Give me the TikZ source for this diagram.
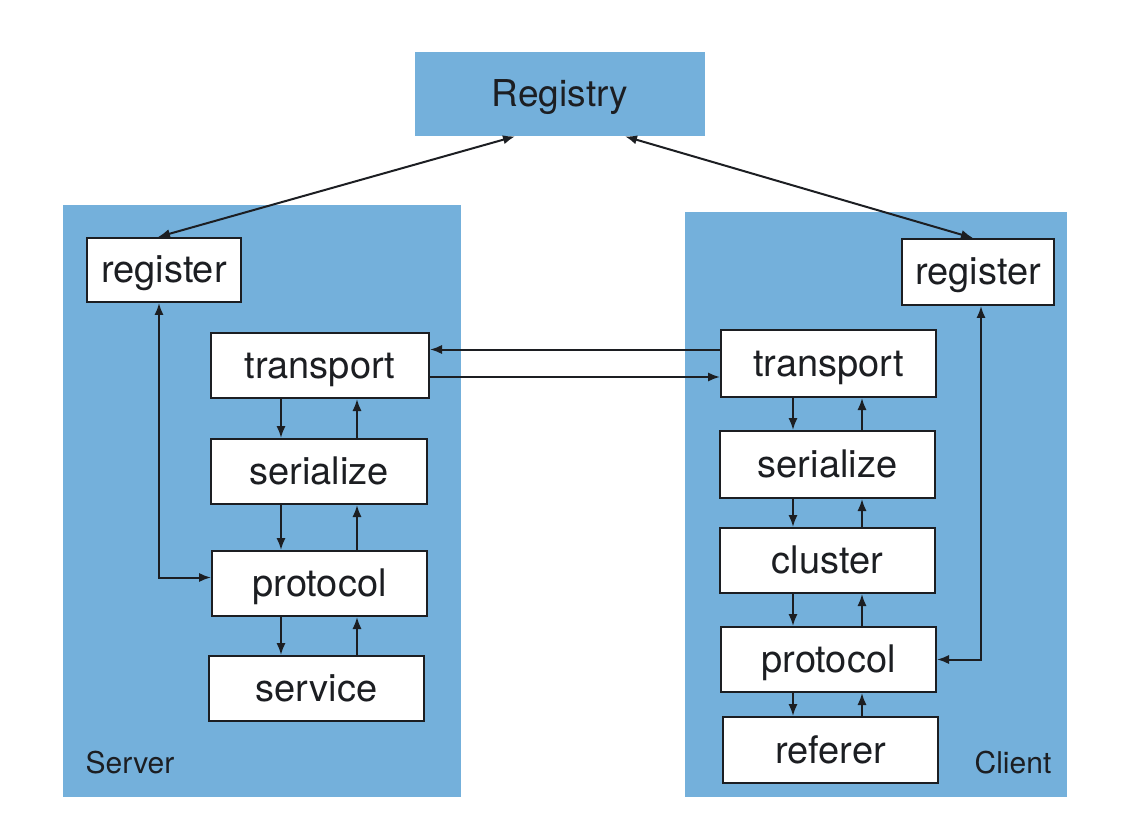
\documentclass[tikz,border=0pt]{standalone}
\usepackage{fontspec}
\setmainfont{TeX Gyre Heros}
\usepackage{xcolor}
\definecolor{Panel Blue}{HTML}{74B0DB}
\definecolor{Ink}{HTML}{1C1E22}
\colorlet{cBlue}{Panel Blue}
\colorlet{cInk}{Ink}
\usepackage{tikz}
\usetikzlibrary{calc, arrows.meta, positioning}
\tikzset{
	line width = .75pt,
	>={Latex[length=6pt, width=4.6pt]},
	panel/.style={
		fill=cBlue,
		draw=none,
		inner sep=0pt
	},
	block/.style={
		draw=cInk,
		fill=white,
		line width=1pt,
		text=cInk,
		inner sep=0pt,
		text height=13pt,
		text depth=0pt,
		minimum height=32.5pt,
		font=\fontsize{19}{22}\selectfont
	},
	label/.style={
		text=cInk,
		font=\fontsize{15}{18}\selectfont
	},
	edge/.style={
		->,
		draw=cInk,
		line width=1pt
	}
}
\begin{document}
\begin{tikzpicture}[x=.5pt, y=-.5pt]
		\useasboundingbox (0,0) rectangle (1146,834);

		\node[panel, minimum width=398*.5pt, minimum height=592*.5pt] (server) at (262,501) {};
		\node[panel, minimum width=382*.5pt, minimum height=585*.5pt] (client) at (876,504.5) {};
		\node[panel, minimum width=290*.5pt, minimum height=84*.5pt, text=cInk, text height=13pt, text depth=0pt, font=\fontsize{18.5}{22}\selectfont] (reg) at (560,94) {Registry};

		\node[block, minimum width=77pt, minimum height=32pt] (sreg) at (164,270) {register};
		\node[block, minimum width=109pt] (strans) at (320,365.5) {transport};
		\node[block, minimum width=108pt] (sser) at (319,471.5) {serialize};
		\node[block, minimum width=107.5pt] (sprot) at (319.5,583.5) {protocol};
		\node[block, minimum width=107.5pt] (sserv) at (316.5,688.5) {service};

		\node[block, minimum width=76pt, minimum height=33pt] (creg) at (978,272) {register};
		\node[block, minimum width=107.5pt, minimum height=33.5pt] (ctrans) at (828.5,363.5) {transport};
		\node[block, minimum width=107.5pt, minimum height=33.5pt] (cser) at (827.5,464.5) {serialize};
		\node[block, minimum width=107.5pt] (cclu) at (827.5,560.5) {cluster};
		\node[block, minimum width=107.5pt] (cprot) at (828.5,659.5) {protocol};
		\node[block, minimum width=107.5pt, minimum height=33pt] (cref) at (830.5,750) {referer};

		\node[label] (slabel) at (130,763) {Server};
		\node[label] (clabel) at (1013,763) {Client};

		\coordinate (sdn) at (281,0);
		\coordinate (sup) at (357,0);
		\coordinate (cdn) at (793,0);
		\coordinate (cup) at (862,0);

		\foreach \a/\b in {strans/sser, sser/sprot, sprot/sserv} {
			\draw[edge] (\a.south -| sdn) -- (\b.north -| sdn);
			\draw[edge] (\b.north -| sup) -- (\a.south -| sup);
		}
		\foreach \a/\b in {ctrans/cser, cser/cclu, cclu/cprot, cprot/cref} {
			\draw[edge] (\a.south -| cdn) -- (\b.north -| cdn);
			\draw[edge] (\b.north -| cup) -- (\a.south -| cup);
		}

		\draw[edge, <->] ([xshift=-3pt]sreg.north) -- ([xshift=-22.5pt]reg.south);
		\draw[edge, <->] ([xshift=-2.5pt]creg.north) -- ([xshift=32.5pt]reg.south);

		\draw[edge, <->] ([xshift=-2.5pt]sreg.south) |- ([yshift=3pt]sprot.west);
		\draw[edge, <->] ([xshift=1.5pt]creg.south) |- (cprot.east);

		\draw[edge] ([yshift=7pt]ctrans.west) -- ([yshift=7pt]ctrans.west -| strans.east);
		\draw[edge] ([yshift=-5.75pt]strans.east) -- ([yshift=-5.75pt]strans.east -| ctrans.west);
	\end{tikzpicture}
\end{document}
